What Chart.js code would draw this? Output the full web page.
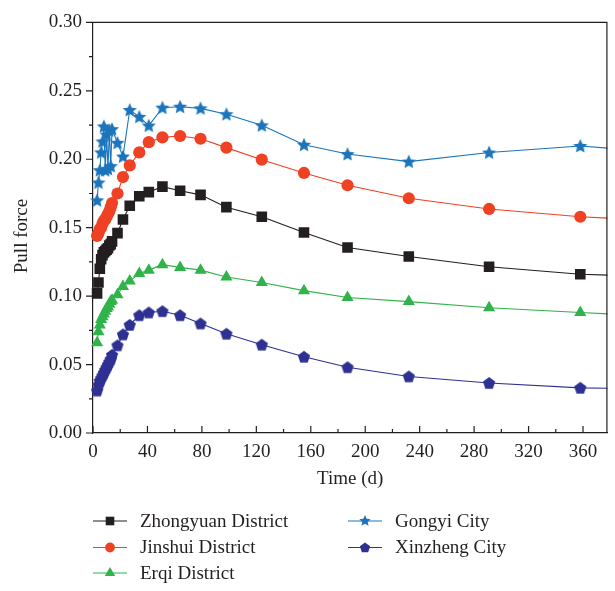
<!DOCTYPE html>
<html><head><meta charset="utf-8">
<script src="https://cdn.jsdelivr.net/npm/chart.js@4/dist/chart.umd.min.js"></script>
<style>html,body{margin:0;padding:0;background:#fff;}#wrap{width:615px;height:591px;position:relative;}</style>
</head><body><div id="wrap"><canvas id="c" width="615" height="591"></canvas></div>
<script>
// ---- data ----
const days = [3,4,5,6,7,8,9,10,11,12,13,14,18,22,27,34,41,51,64,79,98,124,155,187,232,291,358,420];
const zhongyuan = [0.102,0.110,0.120,0.127,0.130,0.132,0.133,0.134,0.135,0.137,0.138,0.140,0.146,0.156,0.166,0.173,0.176,0.180,0.177,0.174,0.165,0.158,0.1465,0.1355,0.129,0.1215,0.116,0.114];
const jinshui   = [0.144,0.146,0.149,0.150,0.153,0.155,0.156,0.158,0.160,0.162,0.165,0.168,0.175,0.187,0.1955,0.205,0.2125,0.216,0.217,0.215,0.2085,0.1997,0.190,0.181,0.1715,0.1637,0.158,0.155];
const erqi      = [0.066,0.074,0.079,0.083,0.085,0.087,0.089,0.091,0.092,0.094,0.096,0.097,0.101,0.107,0.111,0.1165,0.119,0.123,0.121,0.119,0.114,0.110,0.104,0.099,0.096,0.0915,0.088,0.085];
const gongyi    = [0.170,0.183,0.192,0.205,0.213,0.224,0.192,0.218,0.193,0.221,0.195,0.222,0.212,0.202,0.236,0.231,0.2246,0.2377,0.2384,0.2372,0.2329,0.2248,0.2106,0.2038,0.1983,0.2049,0.2097,0.205];
const xinzheng  = [0.031,0.035,0.038,0.040,0.042,0.044,0.046,0.048,0.050,0.052,0.054,0.057,0.064,0.072,0.079,0.086,0.088,0.089,0.086,0.080,0.0725,0.0645,0.0557,0.048,0.0413,0.0365,0.033,0.032];
const seriesNames = ['Zhongyuan District','Jinshui District','Erqi District','Gongyi City','Xinzheng City'];
const xTicks = [0,40,80,120,160,200,240,280,320,360];
const yTicks = [0,0.05,0.10,0.15,0.20,0.25,0.30];
const yTitle = 'Pull force';

// ---- style ----
const AXIS = '#231f20';
const COLORS = ['#231f20','#ef4123','#2fb34a','#1c75bc','#2e3192'];
const FONT = 'Liberation Serif';

function starPath(ctx,cx,cy,R){const r=R*0.47;ctx.beginPath();for(let i=0;i<10;i++){const a=-Math.PI/2+i*Math.PI/5;const rr=i%2?r:R;ctx.lineTo(cx+rr*Math.cos(a),cy+rr*Math.sin(a));}ctx.closePath();}
function pentPath(ctx,cx,cy,R){ctx.beginPath();for(let i=0;i<5;i++){const a=-Math.PI/2+i*2*Math.PI/5;ctx.lineTo(cx+R*Math.cos(a),cy+R*Math.sin(a));}ctx.closePath();}
function makeImg(size,pathFn,R,color){const c=document.createElement('canvas');c.width=c.height=size;const g=c.getContext('2d');pathFn(g,size/2,size/2+0.5,R);g.fillStyle=color;g.fill();return c;}
const starImg = makeImg(18,starPath,7.4,COLORS[3]);
const pentImg = makeImg(16,pentPath,6.4,COLORS[4]);

const values = [zhongyuan,jinshui,erqi,gongyi,xinzheng];
const styles = ['rect','circle','triangle',starImg,pentImg];
const radii = [7.5,6.1,7,7,7];

Chart.defaults.font.family = FONT;
Chart.defaults.font.size = 19;
Chart.defaults.color = AXIS;

const datasets = values.map((vals,i)=>({
  label: seriesNames[i],
  data: days.map((d,j)=>({x:d,y:vals[j]})),
  borderColor: COLORS[i],
  backgroundColor: COLORS[i],
  borderWidth: 1.1,
  pointStyle: styles[i],
  pointRadius: radii[i],
  pointBackgroundColor: COLORS[i],
  pointBorderColor: COLORS[i],
  pointBorderWidth: 0,
  tension: 0,
  clip: {left: 8, top: 8, right: 0, bottom: 8}
}));

const framePlugin = {
  id: 'frame',
  afterDraw(chart){
    const {ctx, chartArea:a, scales:{x,y}} = chart;
    ctx.save();
    ctx.strokeStyle = AXIS; ctx.lineWidth = 1.2;
    ctx.beginPath();
    ctx.moveTo(a.left, a.top); ctx.lineTo(a.right, a.top);
    ctx.moveTo(a.right-0.6, a.top); ctx.lineTo(a.right-0.6, a.bottom);
    xTicks.forEach(v=>{const px=x.getPixelForValue(v);ctx.moveTo(px,a.bottom);ctx.lineTo(px,a.bottom-7);});
    xTicks.map(v=>v+20).filter(v=>v<x.max).forEach(v=>{const px=x.getPixelForValue(v);ctx.moveTo(px,a.bottom);ctx.lineTo(px,a.bottom-4);});
    yTicks.forEach(v=>{const py=y.getPixelForValue(v);ctx.moveTo(a.left,py);ctx.lineTo(a.left-7,py);});
    yTicks.slice(0,-1).map(v=>v+0.025).forEach(v=>{const py=y.getPixelForValue(v);ctx.moveTo(a.left,py);ctx.lineTo(a.left-4,py);});
    ctx.stroke();
    ctx.font = '19px "'+FONT+'"';
    // y title
    ctx.save();
    ctx.translate(22, 236);
    ctx.rotate(-Math.PI/2);
    ctx.fillStyle = AXIS; ctx.textAlign = 'center'; ctx.textBaseline = 'middle';
    ctx.fillText(yTitle, 0, 0);
    ctx.restore();
    // legend
    const rows = [521,547.5,573];
    const pos = [[93,0],[93,1],[93,2],[348,0],[348,1]];
    ctx.textBaseline = 'middle';
    ctx.textAlign = 'left';
    pos.forEach(([x0,r],i)=>{
      const yy = rows[r];
      ctx.strokeStyle = COLORS[i]; ctx.lineWidth = 1.2;
      ctx.beginPath(); ctx.moveTo(x0,yy); ctx.lineTo(x0+34,yy); ctx.stroke();
      const cx = x0+17;
      ctx.fillStyle = COLORS[i];
      if(i===0){ctx.fillRect(cx-4.3,yy-4.3,8.6,8.6);}
      else if(i===1){ctx.beginPath();ctx.arc(cx,yy,4.9,0,Math.PI*2);ctx.fill();}
      else if(i===2){const R=6;ctx.beginPath();ctx.moveTo(cx,yy-R);ctx.lineTo(cx+R*0.866,yy+R*0.5);ctx.lineTo(cx-R*0.866,yy+R*0.5);ctx.closePath();ctx.fill();}
      else if(i===3){starPath(ctx,cx,yy,6);ctx.fill();}
      else {pentPath(ctx,cx,yy+0.5,5.4);ctx.fill();}
      ctx.fillStyle = AXIS;
      ctx.fillText(seriesNames[i], x0+47, yy+1);
    });
    ctx.restore();
  }
};

new Chart(document.getElementById('c'), {
  type: 'line',
  data: {datasets},
  options: {
    responsive: false,
    animation: false,
    events: [],
    layout: {padding: {top: 14, right: 1, left: 0, bottom: 0}},
    plugins: {legend: {display: false}, tooltip: {enabled: false}},
    scales: {
      x: {
        type: 'linear', min: 0, max: 378,
        afterBuildTicks: s => { s.ticks = xTicks.map(v=>({value:v})); },
        afterFit: s => { s.height = 158; },
        grid: {display: false, drawTicks: false},
        border: {display: true, color: AXIS, width: 1.2},
        ticks: {padding: 8, maxRotation: 0, autoSkip: false, color: AXIS, font: {size: 19}},
        title: {display: true, text: 'Time (d)', color: AXIS, font: {size: 19}, padding: {top: 0, bottom: 101}}
      },
      y: {
        type: 'linear', min: 0, max: 0.30,
        afterBuildTicks: s => { s.ticks = yTicks.map(v=>({value:v})); },
        afterFit: s => { s.width = 93; },
        grid: {display: false, drawTicks: false},
        border: {display: true, color: AXIS, width: 1.2},
        ticks: {padding: 11, color: AXIS, font: {size: 19}, callback: v => Number(v).toFixed(2)},
        title: {display: false}
      }
    }
  },
  plugins: [framePlugin]
});
</script></body></html>
